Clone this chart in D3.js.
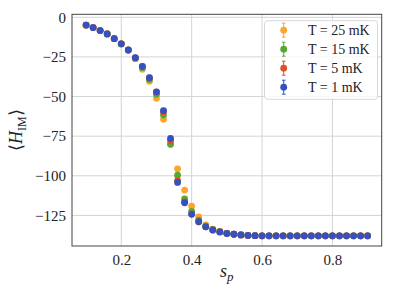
<!DOCTYPE html>
<html>
<head>
<meta charset="utf-8">
<script src="https://cdn.jsdelivr.net/npm/d3@7"></script>
<style>
  body { margin: 0; background: #fff; }
  svg text { font-family: "Liberation Serif", "Times New Roman", serif !important; }
</style>
</head>
<body>
<div id="chart"></div>
<script>
"use strict";

// s_p values on the x axis
var sp = [0.10, 0.12, 0.14, 0.16, 0.18, 0.20, 0.22, 0.24, 0.26, 0.28,
          0.30, 0.32, 0.34, 0.36, 0.38, 0.40, 0.42, 0.44, 0.46, 0.48,
          0.50, 0.52, 0.54, 0.56, 0.58, 0.60, 0.62, 0.64, 0.66, 0.68,
          0.70, 0.72, 0.74, 0.76, 0.78, 0.80, 0.82, 0.84, 0.86, 0.88, 0.90];

var h25 = [-4.9, -6.5, -8.4, -10.5, -13.5, -16.8, -20.8, -26.1, -32.8, -40.4,
           -51.1, -64.4, -80.3, -95.6, -109.0, -119.1, -125.9, -131.0, -133.6, -135.1,
           -136.2, -136.8, -137.2, -137.6, -137.8, -137.9, -137.9, -137.9, -137.9, -137.9,
           -137.9, -137.9, -137.9, -137.9, -137.9, -137.9, -137.9, -137.9, -137.9, -137.9, -137.9];

var h15 = [-4.9, -6.5, -8.4, -10.5, -13.5, -16.7, -20.7, -25.8, -31.8, -39.2,
           -48.6, -61.7, -80.0, -99.6, -114.6, -122.5, -128.0, -131.8, -134.0, -135.3,
           -136.4, -136.9, -137.3, -137.6, -137.8, -137.9, -137.9, -137.9, -137.9, -137.9,
           -137.9, -137.9, -137.9, -137.9, -137.9, -137.9, -137.9, -137.9, -137.9, -137.9, -137.9];

var h5 = [-4.9, -6.5, -8.4, -10.5, -13.5, -16.7, -20.6, -25.6, -31.1, -38.3,
          -47.3, -59.6, -77.9, -103.0, -116.5, -124.0, -129.0, -132.2, -134.2, -135.4,
          -136.4, -136.9, -137.3, -137.6, -137.8, -137.9, -137.9, -137.9, -137.9, -137.9,
          -137.9, -137.9, -137.9, -137.9, -137.9, -137.9, -137.9, -137.9, -137.9, -137.9, -137.9];

var h1 = [-4.9, -6.5, -8.4, -10.5, -13.5, -16.7, -20.6, -25.5, -30.9, -38.1,
          -47.0, -58.9, -76.4, -104.2, -117.0, -124.3, -129.0, -132.2, -134.2, -135.4,
          -136.4, -136.9, -137.3, -137.6, -137.8, -137.9, -137.9, -137.9, -137.9, -137.9,
          -137.9, -137.9, -137.9, -137.9, -137.9, -137.9, -137.9, -137.9, -137.9, -137.9, -137.9];

var seriesNames = ["T = 25 mK", "T = 15 mK", "T = 5 mK", "T = 1 mK"];
var seriesValues = [h25, h15, h5, h1];
var seriesColors = ["#fca52e", "#56a833", "#e14f26", "#3551c0"];

var xTicks = [0.2, 0.4, 0.6, 0.8];
var yTicks = [0, -25, -50, -75, -100, -125];

var width = 395, height = 296;
var margin = {top: 14.3, right: 13.3, bottom: 50, left: 72};
var iw = width - margin.left - margin.right;
var ih = height - margin.top - margin.bottom;
var serif = "'Liberation Serif', serif";

var svg = d3.select("#chart").append("svg")
  .attr("width", width)
  .attr("height", height);

var g = svg.append("g")
  .attr("transform", "translate(" + margin.left + "," + margin.top + ")");

var x = d3.scaleLinear().domain([0.06, 0.94]).range([0, iw]);
var y = d3.scaleLinear().domain([-144.3, 1.9]).range([ih, 0]);

// grid
g.append("g").selectAll("line").data(xTicks).enter().append("line")
  .attr("x1", function(d){ return x(d); })
  .attr("x2", function(d){ return x(d); })
  .attr("y1", 0).attr("y2", ih)
  .attr("stroke", "#d4d4d4").attr("stroke-width", 1);
g.append("g").selectAll("line").data(yTicks).enter().append("line")
  .attr("y1", function(d){ return y(d); })
  .attr("y2", function(d){ return y(d); })
  .attr("x1", 0).attr("x2", iw)
  .attr("stroke", "#d4d4d4").attr("stroke-width", 1);

// axes (labels only, no tick marks)
var xAxis = g.append("g")
  .attr("transform", "translate(0," + ih + ")")
  .call(d3.axisBottom(x).tickValues(xTicks).tickSize(0).tickPadding(8).tickFormat(d3.format(".1f")));
var yAxis = g.append("g")
  .call(d3.axisLeft(y).tickValues(yTicks).tickSize(0).tickPadding(6));
[xAxis, yAxis].forEach(function(a){
  a.attr("font-family", null).attr("font-size", null);
  a.select(".domain").remove();
  a.selectAll("text")
    .style("font-family", serif)
    .style("font-size", "15px")
    .attr("fill", "#222");
});

// points, 25 mK drawn first, 1 mK on top
seriesValues.forEach(function(vals, i){
  g.append("g").selectAll("circle")
    .data(sp.map(function(s, j){ return [s, vals[j]]; }))
    .enter().append("circle")
      .attr("cx", function(d){ return x(d[0]); })
      .attr("cy", function(d){ return y(d[1]); })
      .attr("r", 3.4)
      .attr("fill", seriesColors[i]);
});

// frame
g.append("rect")
  .attr("width", iw).attr("height", ih)
  .attr("fill", "none")
  .attr("stroke", "#444").attr("stroke-width", 1);

// legend
var lg = svg.append("g").attr("transform", "translate(264.5,20.7)");
lg.append("rect")
  .attr("width", 113).attr("height", 78.6)
  .attr("rx", 3)
  .attr("fill", "#fff").attr("fill-opacity", 0.8)
  .attr("stroke", "#d8d8d8");
seriesNames.forEach(function(name, i){
  var cy = 9.5 + i * 19;
  var row = lg.append("g");
  row.append("line")
    .attr("x1", 19.2).attr("x2", 19.2)
    .attr("y1", cy - 7).attr("y2", cy + 7)
    .attr("stroke", seriesColors[i]).attr("stroke-width", 1);
  [cy - 7, cy + 7].forEach(function(c){
    row.append("line")
      .attr("x1", 17.4).attr("x2", 21)
      .attr("y1", c).attr("y2", c)
      .attr("stroke", seriesColors[i]).attr("stroke-width", 1);
  });
  row.append("circle")
    .attr("cx", 19.2).attr("cy", cy).attr("r", 3.4)
    .attr("fill", seriesColors[i]);
  row.append("text")
    .attr("x", 43.5).attr("y", cy + 4.5)
    .style("font-family", serif)
    .style("font-size", "14px")
    .attr("fill", "#222")
    .text(name);
});

// axis titles
svg.append("text")
  .attr("x", margin.left + iw / 2)
  .attr("y", 277)
  .attr("text-anchor", "middle")
  .style("font-family", serif)
  .style("font-size", "18px")
  .attr("fill", "#222")
  .html('<tspan font-style="italic">s</tspan><tspan font-style="italic" font-size="13px" dy="4">p</tspan>');

svg.append("text")
  .attr("transform", "translate(22," + (margin.top + ih / 2) + ") rotate(-90)")
  .attr("text-anchor", "middle")
  .style("font-family", serif)
  .style("font-size", "18px")
  .attr("fill", "#222")
  .html('⟨<tspan font-style="italic">H</tspan><tspan font-size="12px" dy="4">IM</tspan><tspan dy="-4">⟩</tspan>');
</script>
</body>
</html>
